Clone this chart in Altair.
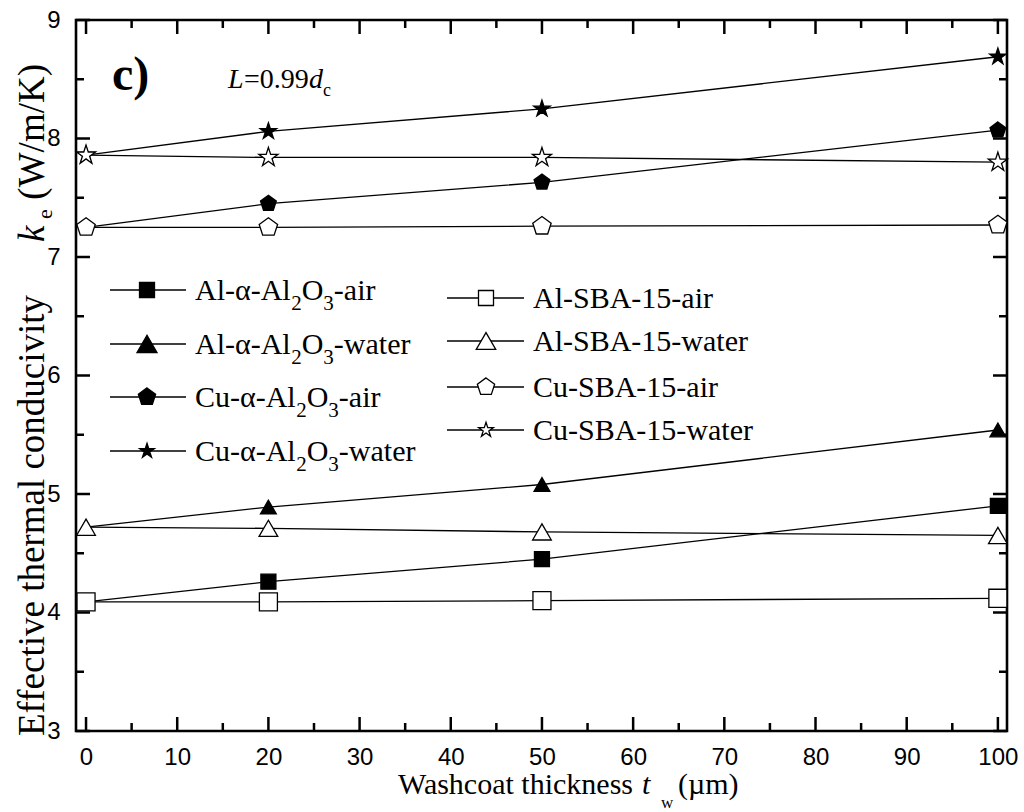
import altair as alt
import pandas as pd

# ---------------- data ----------------
thickness = [0, 20, 50, 100]
series_names = ["Al-α-Al2O3-air", "Al-α-Al2O3-water", "Cu-α-Al2O3-air", "Cu-α-Al2O3-water",
                "Al-SBA-15-air", "Al-SBA-15-water", "Cu-SBA-15-air", "Cu-SBA-15-water"]
al_alpha_air = [4.09, 4.26, 4.45, 4.90]
al_alpha_water = [4.72, 4.89, 5.08, 5.54]
cu_alpha_air = [7.25, 7.45, 7.63, 8.07]
cu_alpha_water = [7.86, 8.06, 8.25, 8.69]
al_sba_air = [4.09, 4.09, 4.10, 4.12]
al_sba_water = [4.72, 4.71, 4.68, 4.65]
cu_sba_air = [7.25, 7.25, 7.26, 7.27]
cu_sba_water = [7.86, 7.84, 7.84, 7.80]
series_values = [al_alpha_air, al_alpha_water, cu_alpha_air, cu_alpha_water,
                 al_sba_air, al_sba_water, cu_sba_air, cu_sba_water]

x_major = [0, 10, 20, 30, 40, 50, 60, 70, 80, 90, 100]
x_minor = [5, 15, 25, 35, 45, 55, 65, 75, 85, 95]
y_major = [3, 4, 5, 6, 7, 8, 9]
y_minor = [3.5, 4.5, 5.5, 6.5, 7.5, 8.5]

# ---------------- styles ----------------
PENTAGON = "M0,-1L0.951,-0.309L0.588,0.809L-0.588,0.809L-0.951,-0.309Z"
STAR = ("M0,-1L0.2245,-0.309L0.951,-0.309L0.363,0.118L0.588,0.809L0,0.382"
        "L-0.588,0.809L-0.363,0.118L-0.951,-0.309L-0.2245,-0.309Z")
shapes = ["square", "triangle-up", PENTAGON, STAR] * 2
fills = ["black"] * 4 + ["white"] * 4
sizes = [225, 400, 360, 380, 225, 400, 360, 330]
legend_sizes = [225, 400, 330, 240, 225, 380, 330, 240]

W, H = 931, 711
SERIF = "Liberation Serif"
SANS = "Liberation Sans"

rows = []
for name, vals in zip(series_names, series_values):
    for t, v in zip(thickness, vals):
        rows.append({"series": name, "t": t, "k": v})
df = pd.DataFrame(rows)

xscale = alt.Scale(domain=[-1.1, 101], nice=False, zero=False)
yscale = alt.Scale(domain=[3, 9], nice=False, zero=False)
xaxis = alt.Axis(values=x_major, title=None, format="d")
yaxis = alt.Axis(values=y_major, title=None, format="d")

base = alt.Chart(df)
lines = base.mark_line(color="black", strokeWidth=1.3).encode(
    x=alt.X("t:Q", scale=xscale, axis=xaxis),
    y=alt.Y("k:Q", scale=yscale, axis=yaxis),
    detail="series:N",
)
points = base.mark_point(filled=True, stroke="black", strokeWidth=1.3, opacity=1).encode(
    x=alt.X("t:Q", scale=xscale, axis=xaxis),
    y=alt.Y("k:Q", scale=yscale, axis=yaxis),
    shape=alt.Shape("series:N", scale=alt.Scale(domain=series_names, range=shapes), legend=None),
    fill=alt.Fill("series:N", scale=alt.Scale(domain=series_names, range=fills), legend=None),
    size=alt.Size("series:N", scale=alt.Scale(domain=series_names, range=sizes), legend=None),
)

# ---------------- inward ticks on all four sides ----------------
tick_layers = []
for vals, length in ((x_major, 14), (x_minor, 8)):
    d = pd.DataFrame({"v": vals})
    for y0, y1 in ((H, H - length), (0, length)):
        tick_layers.append(alt.Chart(d).mark_rule(color="black", strokeWidth=2.5).encode(
            x=alt.X("v:Q", scale=xscale, axis=xaxis), y=alt.value(y0), y2=alt.value(y1)))
for vals, length in ((y_major, 14), (y_minor, 8)):
    d = pd.DataFrame({"v": vals})
    for x0, x1 in ((0, length), (W, W - length)):
        tick_layers.append(alt.Chart(d).mark_rule(color="black", strokeWidth=2.5).encode(
            y=alt.Y("v:Q", scale=yscale, axis=yaxis), x=alt.value(x0), x2=alt.value(x1)))


def txt(s, x, y, size, style="normal", weight="normal", align="left", angle=0,
        baseline="alphabetic", font=SERIF):
    return alt.Chart(pd.DataFrame({"s": [s]})).mark_text(
        font=font, fontSize=size, fontStyle=style, fontWeight=weight, align=align,
        baseline=baseline, angle=angle, color="black").encode(
        x=alt.value(x), y=alt.value(y), text="s:N")


# approximate Times/Liberation Serif advance widths (em) for the legend pieces
EM = {"A": 0.722, "l": 0.278, "-": 0.333, "α": 0.54, "C": 0.667, "u": 0.5, "O": 0.722}

# ---------------- legend (two columns) ----------------
legend_layers = []
col_geom = [(34, 110, 71, 119), (371, 448, 410, 457)]
row_y = [[270, 324, 377, 431], [278, 321, 367, 410]]
one = pd.DataFrame({"a": [0]})
LFS, SFS = 30, 21
for i, name in enumerate(series_names):
    c, r = divmod(i, 4)
    x1, x2, xm, xt = col_geom[c]
    yy = row_y[c][r]
    legend_layers.append(alt.Chart(one).mark_rule(color="black", strokeWidth=1.3).encode(
        x=alt.value(x1), x2=alt.value(x2), y=alt.value(yy)))
    legend_layers.append(alt.Chart(one).mark_point(
        shape=shapes[i], size=legend_sizes[i], filled=True, fill=fills[i], stroke="black",
        strokeWidth=1.3, opacity=1).encode(x=alt.value(xm), y=alt.value(yy)))
    if "2O3" in name:
        prefix, suffix = name.split("2O3")
        xp = xt + sum(EM[ch] for ch in prefix) * LFS
        legend_layers.append(txt(prefix, xt, yy + 10, LFS))
        legend_layers.append(txt("2", xp, yy + 20, SFS))
        xp += 0.5 * SFS
        legend_layers.append(txt("O", xp, yy + 10, LFS))
        xp += EM["O"] * LFS
        legend_layers.append(txt("3", xp, yy + 20, SFS))
        xp += 0.5 * SFS
        legend_layers.append(txt(suffix, xp, yy + 10, LFS))
    else:
        legend_layers.append(txt(name, xt, yy + 10, LFS))

# ---------------- annotations & axis titles ----------------
ann = [
    txt("c)", 36, 70, 48, weight="bold"),
    txt("L", 152, 68, 28, style="italic"),
    txt("=0.99", 168, 68, 28),
    txt("d", 233, 68, 28, style="italic"),
    txt("c", 247, 76, 18),
    # x title
    txt("Washcoat thickness", 557, 774, 30, align="right"),
    txt("t", 566, 774, 30, style="italic"),
    txt("w", 585, 788, 17),
    txt("(µm)", 602, 774, 30),
    # y title (rotated)
    txt("Effective thermal conducivity", -32, 716, 37, angle=270),
    txt("k", -32, 222, 37, style="italic", angle=270),
    txt("e", -24, 199, 22, angle=270),
    txt("(W/m/K)", -32, 44, 37, angle=270, align="right"),
]

chart = alt.layer(*tick_layers, lines, points, *legend_layers, *ann).properties(
    width=W, height=H, autosize="none",
    padding={"left": 76, "top": 20, "right": 17, "bottom": 81},
).configure_view(stroke="black", strokeWidth=2.6).configure_axis(
    grid=False, domain=False, ticks=False, tickSize=0, labelFont=SANS, labelFontSize=24,
    labelColor="black",
).configure_axisX(labelPadding=14).configure_axisY(labelPadding=16)

chart.save("out.html", embed_options={"renderer": "svg", "actions": False})
